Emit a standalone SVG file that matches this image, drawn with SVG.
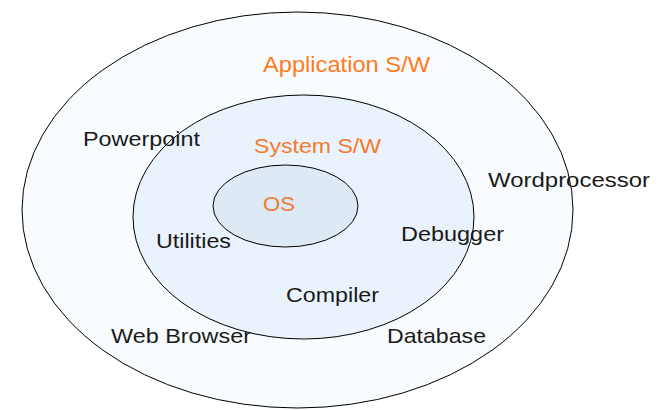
<svg xmlns="http://www.w3.org/2000/svg" width="661" height="410" viewBox="0 0 661 410">
<style>
.ring{stroke:#000;stroke-width:1}
.t{font-family:"Liberation Sans",Arial,sans-serif;font-size:21px;fill:#1a1a1a}
.o{font-family:"Liberation Sans",Arial,sans-serif;fill:#f27a2c}
</style>
<rect width="661" height="410" fill="#ffffff"/>
<g id="application">
<ellipse class="ring" cx="297.5" cy="210" rx="275.5" ry="198" fill="#f8fcff"/>
<text class="o" x="263" y="72" font-size="22" textLength="167" lengthAdjust="spacingAndGlyphs" style="fill:#ff7a1e">Application S/W</text>
</g>
<g id="system">
<ellipse class="ring" cx="303.5" cy="217" rx="170.5" ry="122" fill="#eaf3fc"/>
<text class="o" x="254" y="153" font-size="21" textLength="127" lengthAdjust="spacingAndGlyphs">System S/W</text>
</g>
<g id="os">
<ellipse class="ring" cx="285.5" cy="206" rx="72.5" ry="41" fill="#dde9f5"/>
<text class="o" x="263" y="211" font-size="21" textLength="32" lengthAdjust="spacingAndGlyphs">OS</text>
</g>
<g id="labels">
<text class="t" x="83" y="146" textLength="117" lengthAdjust="spacingAndGlyphs">Powerpoint</text>
<text class="t" x="488" y="187" textLength="162" lengthAdjust="spacingAndGlyphs">Wordprocessor</text>
<text class="t" x="156" y="248" textLength="75" lengthAdjust="spacingAndGlyphs">Utilities</text>
<text class="t" x="401" y="241" textLength="103" lengthAdjust="spacingAndGlyphs">Debugger</text>
<text class="t" x="286" y="302" textLength="93" lengthAdjust="spacingAndGlyphs">Compiler</text>
<text class="t" x="111" y="343" textLength="140" lengthAdjust="spacingAndGlyphs">Web Browser</text>
<text class="t" x="387" y="343" textLength="99" lengthAdjust="spacingAndGlyphs">Database</text>
</g>
</svg>
